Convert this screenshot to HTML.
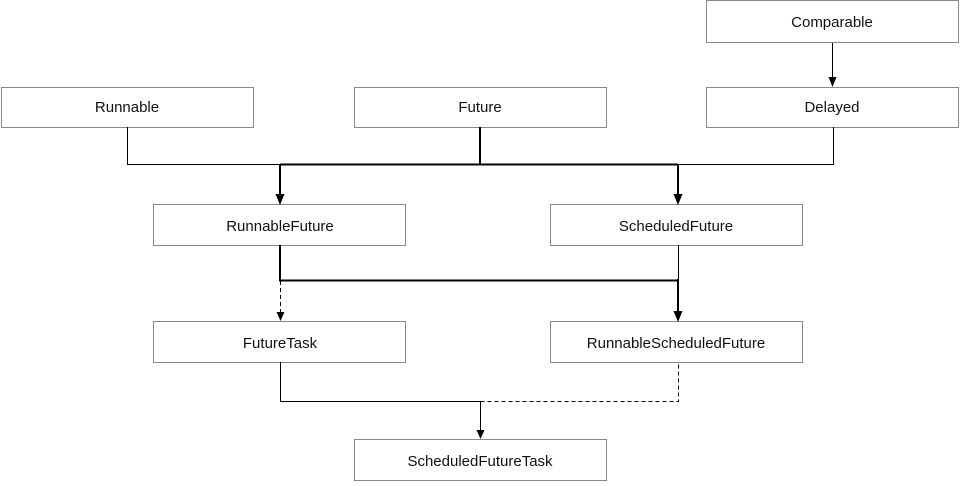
<!DOCTYPE html>
<html><head><style>
body{margin:0;background:#fff;width:960px;height:481px;overflow:hidden}
</style></head><body>
<svg width="960" height="481" xmlns="http://www.w3.org/2000/svg" font-family="Liberation Sans, sans-serif" font-size="15">
<g fill="#fff" stroke="#888" stroke-width="1">
<rect x="706.5" y="0.5" width="252" height="42"/>
<rect x="1.5" y="87.5" width="252" height="40"/>
<rect x="354.5" y="87.5" width="252" height="40"/>
<rect x="706.5" y="87.5" width="252" height="40"/>
<rect x="153.5" y="204.5" width="252" height="41"/>
<rect x="550.5" y="204.5" width="252" height="41"/>
<rect x="153.5" y="321.5" width="252" height="41"/>
<rect x="550.5" y="321.5" width="252" height="41"/>
<rect x="354.5" y="439.5" width="252" height="41"/>
</g>
<g text-anchor="middle" fill="#111">
<text x="832" y="27">Comparable</text>
<text x="127" y="112">Runnable</text>
<text x="480" y="112">Future</text>
<text x="832" y="112">Delayed</text>
<text x="280" y="231">RunnableFuture</text>
<text x="676" y="231">ScheduledFuture</text>
<text x="280" y="348">FutureTask</text>
<text x="676" y="348">RunnableScheduledFuture</text>
<text x="480" y="466">ScheduledFutureTask</text>
</g>
<g fill="none" stroke="#000">
<path d="M832.5 43 V78"/>
<path d="M127.5 127 V164.5 H280 M678 164.5 H833.5 V127"/>
<path d="M480 127 V164.5 M280 164.5 H678" stroke-width="2"/>
<path d="M280 164 V196" stroke-width="2"/>
<path d="M678 164 V196" stroke-width="2"/>
<path d="M280 245 V280.5 H678" stroke-width="2"/>
<path d="M678 279 V313" stroke-width="2"/>
<path d="M678.5 245 V280"/>
<path d="M280.5 281 V313" stroke-dasharray="4,3"/>
<path d="M280.5 362 V401.5 H480.5"/>
<path d="M480.5 401.5 H678.5 V362" stroke-dasharray="4,3"/>
<path d="M480.5 401 V431"/>
</g>
<g fill="#000">
<path d="M828.5 77 L836.5 77 L832.5 87 z"/>
<path d="M275.5 194 L284.5 194 L280 205 z"/>
<path d="M673.5 194 L682.5 194 L678 205 z"/>
<path d="M673.5 311 L682.5 311 L678 322 z"/>
<path d="M276.5 312 L284.5 312 L280.5 321 z"/>
<path d="M476.5 430 L484.5 430 L480.5 439 z"/>
</g>
</svg>
</body></html>
